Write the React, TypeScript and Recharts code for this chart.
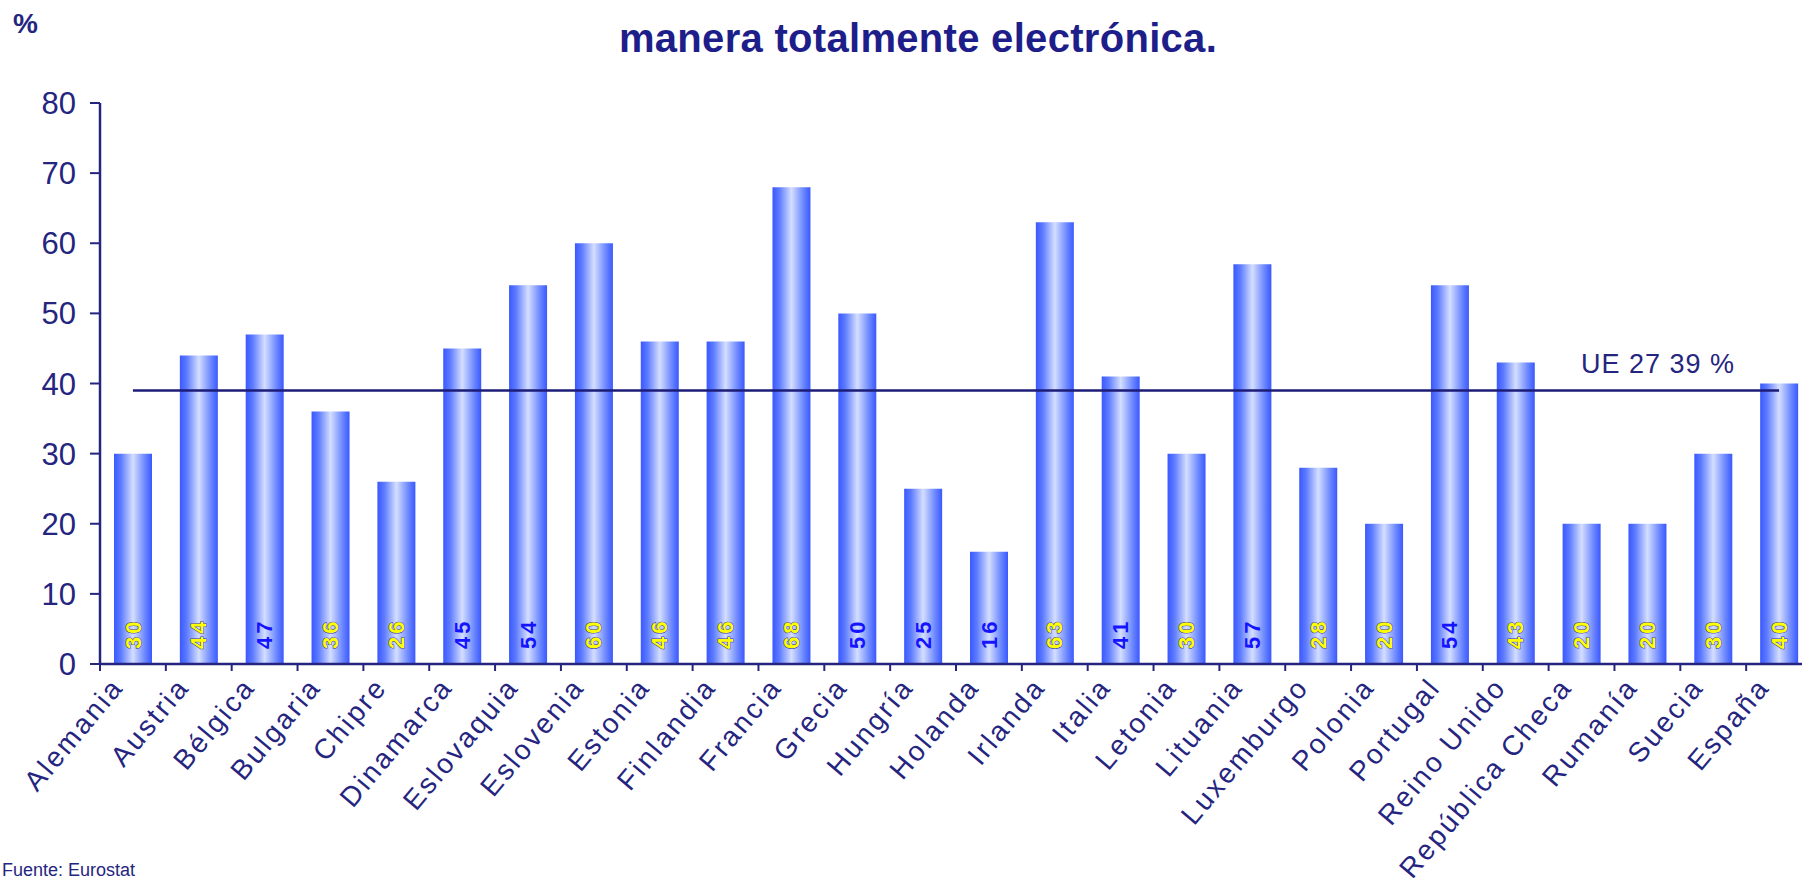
import React from "react";
import { BarChart, Bar, XAxis, YAxis, ReferenceLine, LabelList } from "recharts";

const countries = [
  "Alemania", "Austria", "Bélgica", "Bulgaria", "Chipre", "Dinamarca", "Eslovaquia",
  "Eslovenia", "Estonia", "Finlandia", "Francia", "Grecia", "Hungría", "Holanda",
  "Irlanda", "Italia", "Letonia", "Lituania", "Luxemburgo", "Polonia", "Portugal",
  "Reino Unido", "República Checa", "Rumanía", "Suecia", "España",
];
const values = [30, 44, 47, 36, 26, 45, 54, 60, 46, 46, 68, 50, 25, 16, 63, 41, 30, 57, 28, 20, 54, 43, 20, 20, 30, 40];
const yTicks = [0, 10, 20, 30, 40, 50, 60, 70, 80];
const ueAverage = 39;
const ueLabel = "UE 27 39 %";
const titleText = "manera totalmente electrónica.";
const sourceText = "Fuente: Eurostat";

// labels drawn in yellow in the original, the rest are plain blue
const yellowLabels = new Set([
  "Alemania", "Austria", "Bulgaria", "Chipre", "Eslovenia", "Estonia", "Finlandia", "Francia",
  "Irlanda", "Letonia", "Luxemburgo", "Polonia", "Reino Unido", "República Checa", "Rumanía",
  "Suecia", "España",
]);

const data = countries.map((name, i) => ({ name, value: values[i] }));

const NAVY = "#25257f";
const FONT = "'Liberation Sans', Arial, sans-serif";
const CHART_W = 1830;
const CHART_H = 884;
const MARGIN = { top: 103, right: 18, bottom: 0, left: 0 };
const Y_AXIS_W = 100;
const BAND = (CHART_W - MARGIN.left - MARGIN.right - Y_AXIS_W) / countries.length;

function CountryTick(props: any) {
  const { x, y, payload } = props;
  const left = x - BAND / 2;
  return (
    <g>
      <line x1={left} y1={y} x2={left} y2={y + 7} stroke={NAVY} strokeWidth={2} />
      <g transform={`translate(${x - 8},${y + 24}) rotate(-50)`}>
        <text textAnchor="end" fontSize={28} letterSpacing={2.5} fill={NAVY} fontFamily={FONT}>
          {payload.value}
        </text>
      </g>
    </g>
  );
}

function ValueLabel(props: any) {
  const { x, y, width, height, value, index } = props;
  const cx = Number(x) + Number(width) / 2;
  const by = Number(y) + Number(height) - 15;
  const yellow = yellowLabels.has(countries[index]);
  return (
    <text
      x={cx}
      y={by}
      transform={`rotate(-90, ${cx}, ${by})`}
      textAnchor="start"
      dominantBaseline="central"
      fontSize={22}
      fontWeight="bold"
      letterSpacing={3}
      fontFamily={FONT}
      fill={yellow ? "#ffff00" : "#1414ff"}
      stroke={yellow ? "#3434a8" : "none"}
      strokeWidth={1}
      paintOrder="stroke"
    >
      {value}
    </text>
  );
}

function UeLabel(props: any) {
  const vb = props.viewBox || {};
  const xEnd = Number(vb.x) + Number(vb.width);
  return (
    <text x={xEnd - 44} y={Number(vb.y) - 18} textAnchor="end" fontSize={27} letterSpacing={1} fill={NAVY} fontFamily={FONT}>
      {ueLabel}
    </text>
  );
}

export default function App() {
  return (
    <div style={{ position: "fixed", left: 0, top: 0, width: 1802, height: 884, overflow: "hidden", background: "#fff" }}>
      <div
        style={{
          position: "absolute", left: 918, top: 16, transform: "translateX(-50%)", whiteSpace: "nowrap",
          fontFamily: FONT, fontWeight: "bold", fontSize: 40, color: "#1e1e8a", letterSpacing: 0.3,
        }}
      >
        {titleText}
      </div>
      <div style={{ position: "absolute", left: 13, top: 8, fontFamily: FONT, fontWeight: "bold", fontSize: 28, color: NAVY }}>
        %
      </div>
      <div style={{ position: "absolute", left: 2, top: 860, fontFamily: FONT, fontSize: 18, color: NAVY, whiteSpace: "nowrap" }}>
        {sourceText}
      </div>
      <div style={{ position: "absolute", left: 0, top: 0 }}>
        <BarChart width={CHART_W} height={CHART_H} data={data} margin={MARGIN}>
          <defs>
            <linearGradient id="barFill" x1="0" y1="0" x2="1" y2="0">
              <stop offset="0%" stopColor="#3a58ff" />
              <stop offset="18%" stopColor="#5d7bff" />
              <stop offset="50%" stopColor="#d4deff" />
              <stop offset="82%" stopColor="#6a86ff" />
              <stop offset="100%" stopColor="#3a58ff" />
            </linearGradient>
          </defs>
          <XAxis
            dataKey="name"
            interval={0}
            height={220}
            tickLine={false}
            tickSize={0}
            tickMargin={0}
            axisLine={{ stroke: NAVY, strokeWidth: 2.5 }}
            tick={<CountryTick />}
          />
          <YAxis
            width={Y_AXIS_W}
            domain={[0, 80]}
            ticks={yTicks}
            interval={0}
            tickSize={10}
            tickMargin={14}
            axisLine={{ stroke: NAVY, strokeWidth: 2.5 }}
            tickLine={{ stroke: NAVY, strokeWidth: 2 }}
            tick={{ fill: NAVY, fontSize: 31, fontFamily: FONT }}
          />
          <Bar dataKey="value" fill="url(#barFill)" barSize={38} isAnimationActive={false}>
            <LabelList dataKey="value" content={<ValueLabel />} />
          </Bar>
          <ReferenceLine
            segment={[
              { x: countries[0], y: ueAverage },
              { x: countries[countries.length - 1], y: ueAverage },
            ]}
            stroke="#1c1c78"
            strokeWidth={2.5}
            label={<UeLabel />}
          />
        </BarChart>
      </div>
    </div>
  );
}
